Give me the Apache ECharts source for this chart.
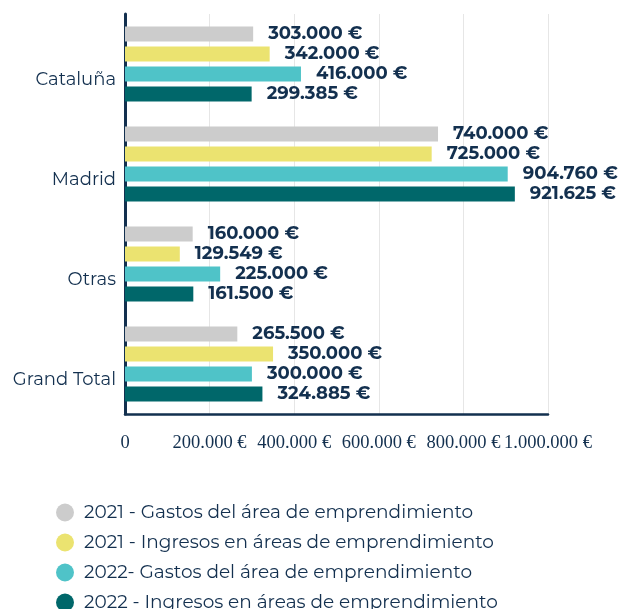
<!DOCTYPE html>
<html>
<head>
<meta charset="utf-8">
<script src="https://cdn.jsdelivr.net/npm/echarts@6/dist/echarts.min.js"></script>
<style>
  html, body { margin: 0; padding: 0; background: #fff; }
  #chart { width: 624px; height: 609px; }
</style>
</head>
<body>
<div id="chart"></div>
<script>
  // categories, top to bottom
  const regions = ['Cataluña', 'Madrid', 'Otras', 'Grand Total']
  const seriesNames = [
    '2021 - Gastos del área de emprendimiento',
    '2021 - Ingresos en áreas de emprendimiento',
    '2022- Gastos del área de emprendimiento',
    '2022 - Ingresos en áreas de emprendimiento'
  ]
  const gastos2021 = [303000, 740000, 160000, 265500]
  const ingresos2021 = [342000, 725000, 129549, 350000]
  const gastos2022 = [416000, 904760, 225000, 300000]
  const ingresos2022 = [299385, 921625, 161500, 324885]
  const colors = ['#cccccc', '#ebe370', '#4fc3c8', '#00676a']

  const textColor = '#13304f'
  const font = 'Montserrat, "Noto Sans", sans-serif'

  function euro(n) {
    if (n === 0) return '0'
    return String(n).replace(/\B(?=(\d{3})+(?!\d))/g, '.') + ' €'
  }

  const chart = echarts.init(document.getElementById('chart'))
  const values = [gastos2021, ingresos2021, gastos2022, ingresos2022]

  chart.setOption({
    animation: false,
    color: colors,
    grid: {
      left: 125,
      right: 76,
      top: 14,
      bottom: 195
    },
    legend: {
      orient: 'vertical',
      left: 51,
      top: 498,
      height: 150,
      icon: 'circle',
      itemWidth: 18,
      itemHeight: 18,
      itemGap: 11,
      textStyle: {
        color: textColor,
        fontSize: 18.5,
        fontFamily: font,
        padding: [0, 0, 0, 5]
      },
      data: seriesNames
    },
    xAxis: {
      type: 'value',
      min: 0,
      max: 1000000,
      interval: 200000,
      axisLine: {
        show: true,
        lineStyle: { color: textColor, width: 2.5 }
      },
      axisTick: { show: false },
      splitLine: {
        lineStyle: { color: '#e6e6e6', width: 1 }
      },
      axisLabel: {
        margin: 20,
        color: textColor,
        fontSize: 18.5,
        fontFamily: '"Liberation Serif", "DejaVu Serif", serif',
        showMaxLabel: true,
        hideOverlap: false,
        formatter: euro
      }
    },
    yAxis: {
      type: 'category',
      inverse: true,
      data: regions,
      axisLine: {
        show: true,
        lineStyle: { color: textColor, width: 3 }
      },
      axisTick: { show: false },
      axisLabel: {
        margin: 9,
        color: textColor,
        fontSize: 18,
        fontFamily: font,
        verticalAlign: 'top',
        lineHeight: 32
      }
    },
    series: values.map((vals, i) => ({
      name: seriesNames[i],
      type: 'bar',
      data: vals,
      barWidth: 15,
      barGap: '33%',
      barCategoryGap: '25%',
      label: {
        show: true,
        position: 'right',
        distance: 15,
        color: textColor,
        fontSize: 18,
        fontWeight: 'bold',
        fontFamily: font,
        formatter: p => euro(p.value)
      }
    }))
  })
</script>
</body>
</html>
